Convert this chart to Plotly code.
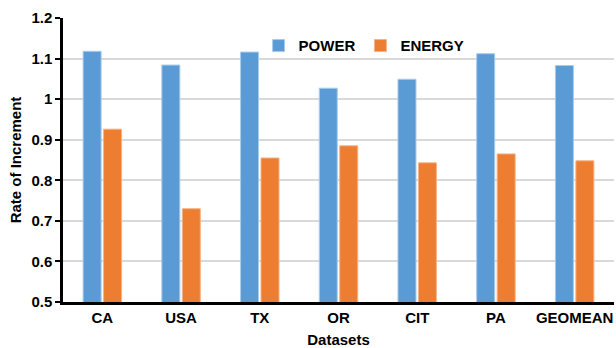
import plotly.graph_objects as go

categories = ["CA", "USA", "TX", "OR", "CIT", "PA", "GEOMEAN"]
power = [1.118, 1.084, 1.116, 1.027, 1.049, 1.112, 1.083]
energy = [0.926, 0.730, 0.855, 0.885, 0.843, 0.865, 0.848]
ytick_vals = [0.5, 0.6, 0.7, 0.8, 0.9, 1.0, 1.1, 1.2]
ytick_text = ["0.5", "0.6", "0.7", "0.8", "0.9", "1", "1.1", "1.2"]

font_family = "Liberation Sans, Arial, sans-serif"
FS = 15

fig = go.Figure()
fig.add_trace(go.Bar(x=categories, y=power, name="POWER",
                     marker=dict(color="#5B9BD5", line=dict(color="#A9CBEA", width=1))))
fig.add_trace(go.Bar(x=categories, y=energy, name="ENERGY",
                     marker=dict(color="#ED7D31", line=dict(color="#F5B387", width=1))))

fig.update_layout(
    width=616, height=348,
    margin=dict(l=63, r=2, t=18, b=46),
    paper_bgcolor="white", plot_bgcolor="white",
    barmode="group", bargap=0.48, bargroupgap=0.12,
    font=dict(family=font_family, size=FS, color="black"),
    legend=dict(orientation="h", x=0.355, y=0.902, xanchor="left", yanchor="middle",
                font=dict(family=font_family, size=FS, color="black", weight="bold"),
                bgcolor="rgba(0,0,0,0)", itemwidth=30, tracegroupgap=0),
    xaxis=dict(
        automargin=False,
        showline=True, linecolor="black", linewidth=3,
        ticks="", showgrid=False,
        tickfont=dict(family=font_family, size=FS, color="black", weight="bold"),
        title=dict(text="<b>Datasets</b>", font=dict(family=font_family, size=FS, color="black"),
                   standoff=10),
    ),
    yaxis=dict(
        automargin=False,
        range=[0.5, 1.2], tickvals=ytick_vals, ticktext=ytick_text,
        showline=True, linecolor="black", linewidth=2.5,
        ticks="outside", ticklen=5, tickwidth=2, tickcolor="black",
        showgrid=True, gridcolor="#D9D9D9", gridwidth=1.5,
        zeroline=False,
        tickfont=dict(family=font_family, size=FS, color="black", weight="bold"),
        title=dict(text="<b>Rate of Increment</b>", font=dict(family=font_family, size=FS, color="black"),
                   standoff=7),
    ),
)

fig.write_html("out.html", config={"displayModeBar": False},
               post_script="document.body.style.margin='0';document.body.style.overflow='hidden';")
